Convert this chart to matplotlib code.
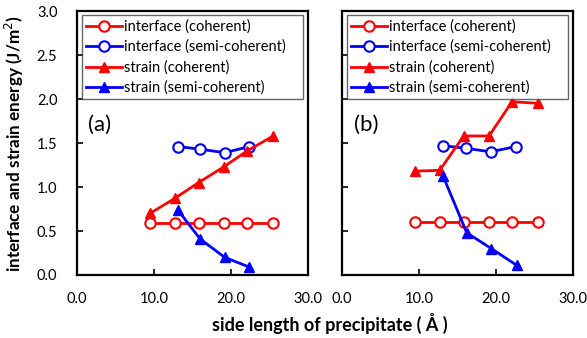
import matplotlib
matplotlib.use("Agg")
import matplotlib.pyplot as plt

plt.rcParams['font.family'] = ['Lato', 'DejaVu Sans']

# panel (a)
a_ic_x = [9.5, 12.7, 15.8, 19.1, 22.1, 25.5]
a_ic_y = [0.59, 0.59, 0.59, 0.59, 0.59, 0.59]
a_is_x = [13.1, 16.0, 19.2, 22.4]
a_is_y = [1.46, 1.43, 1.39, 1.46]
a_sc_x = [9.5, 12.7, 15.8, 19.1, 22.1, 25.5]
a_sc_y = [0.70, 0.87, 1.05, 1.23, 1.41, 1.58]
a_ss_x = [13.1, 16.0, 19.2, 22.4]
a_ss_y = [0.74, 0.41, 0.20, 0.09]

# panel (b)
b_ic_x = [9.5, 12.7, 15.8, 19.1, 22.1, 25.5]
b_ic_y = [0.60, 0.60, 0.60, 0.60, 0.60, 0.60]
b_is_x = [13.1, 16.1, 19.3, 22.6]
b_is_y = [1.47, 1.44, 1.40, 1.46]
b_sc_x = [9.5, 12.7, 15.8, 19.1, 22.1, 25.5]
b_sc_y = [1.18, 1.19, 1.58, 1.58, 1.97, 1.95]
b_ss_x = [13.1, 16.2, 19.4, 22.7]
b_ss_y = [1.13, 0.48, 0.30, 0.11]

labels = ['interface (coherent)', 'interface (semi-coherent)',
          'strain (coherent)', 'strain (semi-coherent)']
xticks = [0, 10, 20, 30]
yticks = [0.0, 0.5, 1.0, 1.5, 2.0, 2.5, 3.0]

RED = '#ff0000'
BLUE = '#0000ff'

fig = plt.figure(figsize=(5.87, 3.38), dpi=100)
ax_a = fig.add_axes([0.131, 0.1864, 0.3935, 0.781])
ax_b = fig.add_axes([0.5826, 0.1864, 0.3935, 0.781])


def draw(ax, ic, is_, sc, ss, tag, show_y):
    ax.plot(*ic, color=RED, lw=2, marker='o', ms=7.5, mfc='white', mec=RED, mew=1.5, label=labels[0])
    ax.plot(*is_, color=BLUE, lw=2, marker='o', ms=7.5, mfc='white', mec=BLUE, mew=1.5, label=labels[1])
    ax.plot(*sc, color=RED, lw=2, marker='^', ms=7.5, label=labels[2])
    ax.plot(*ss, color=BLUE, lw=2, marker='^', ms=7.5, label=labels[3])
    ax.set_xlim(0, 30)
    ax.set_ylim(0, 3.0)
    ax.set_xticks(xticks)
    ax.set_xticklabels([f'{v:.1f}' for v in xticks])
    ax.set_yticks(yticks)
    if show_y:
        ax.set_yticklabels([f'{v:.1f}' for v in yticks])
    else:
        ax.set_yticklabels([])
    ax.tick_params(direction='in', length=4, width=1.2, labelsize=10.5)
    ax.tick_params(axis='x', pad=12)
    ax.tick_params(axis='y', pad=14)
    for s in ax.spines.values():
        s.set_linewidth(1.6)
    leg = ax.legend(loc='upper left', bbox_to_anchor=(0.02, 0.985, 0.96, 0.0), mode='expand',
                    fontsize=10.5, frameon=True, fancybox=False, edgecolor='#404040',
                    borderaxespad=0.0, handlelength=2.5, handletextpad=0.1,
                    labelspacing=0.42, borderpad=0.3)
    leg.get_frame().set_linewidth(1.0)
    ax.text(0.05, 0.57, tag, transform=ax.transAxes, fontsize=16, va='center')


draw(ax_a, (a_ic_x, a_ic_y), (a_is_x, a_is_y), (a_sc_x, a_sc_y), (a_ss_x, a_ss_y), '(a)', True)
draw(ax_b, (b_ic_x, b_ic_y), (b_is_x, b_is_y), (b_sc_x, b_sc_y), (b_ss_x, b_ss_y), '(b)', False)

ax_a.set_ylabel('interface and strain energy (J/m$^2$)', fontsize=12.3, fontweight='bold', labelpad=8)
fig.text(0.562, 0.02, 'side length of precipitate ( Å )', ha='center', fontsize=13, fontweight='bold')

fig.savefig('out.png', dpi=100)
